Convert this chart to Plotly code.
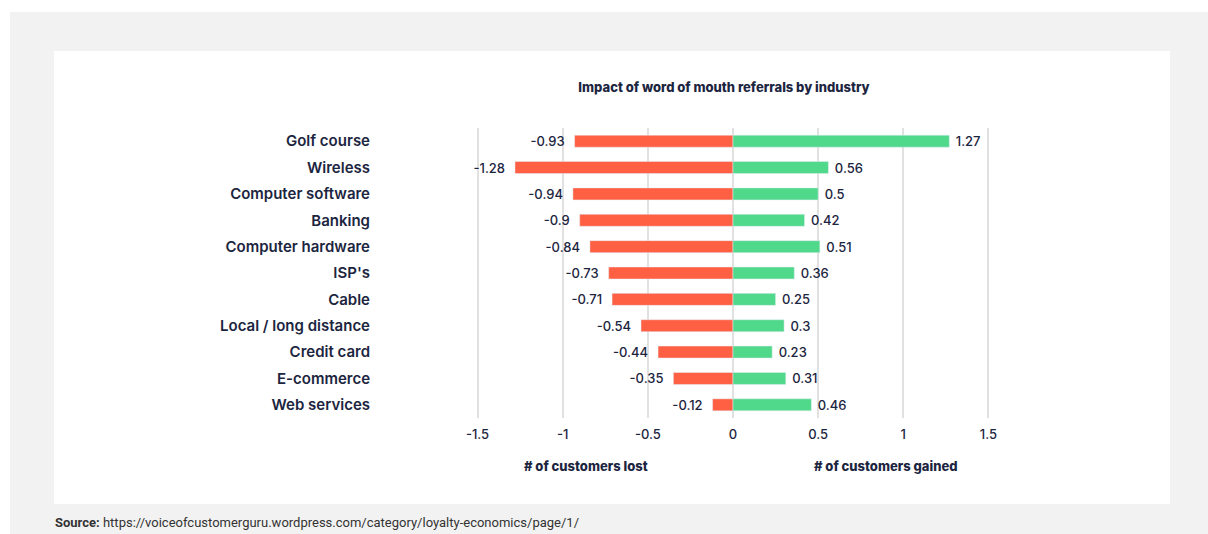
import plotly.graph_objects as go

categories = ["Golf course", "Wireless", "Computer software", "Banking", "Computer hardware",
              "ISP's", "Cable", "Local / long distance", "Credit card", "E-commerce", "Web services"]
lost = [-0.93, -1.28, -0.94, -0.9, -0.84, -0.73, -0.71, -0.54, -0.44, -0.35, -0.12]
gained = [1.27, 0.56, 0.5, 0.42, 0.51, 0.36, 0.25, 0.3, 0.23, 0.31, 0.46]
tick_vals = [-1.5, -1, -0.5, 0, 0.5, 1, 1.5]
tick_text = ["-1.5", "-1", "-0.5", "0", "0.5", "1", "1.5"]

W, H = 1208, 534
L, R, T, B = 469, 211, 128, 116
PW, PH = W - L - R, H - T - B
NAVY = "#1c2540"
FONT = "Inter"


def px_x(p):
    return (p - L) / PW


def px_y(p):
    return (H - B - p) / PH


fig = go.Figure()
fig.add_trace(go.Bar(
    y=categories, x=lost, orientation="h", marker_color="#ff5f42",
    text=[f"{v}  " for v in lost], textposition="outside", constraintext="none",
    textfont=dict(family=FONT, size=13, color=NAVY, weight=500),
    cliponaxis=False, showlegend=False, hoverinfo="x+y"))
fig.add_trace(go.Bar(
    y=categories, x=gained, orientation="h", marker_color="#50d88b",
    text=[f" {v}" for v in gained], textposition="outside", constraintext="none",
    textfont=dict(family=FONT, size=13, color=NAVY, weight=500),
    cliponaxis=False, showlegend=False, hoverinfo="x+y"))

fig.update_layout(
    width=W, height=H,
    margin=dict(l=L, r=R, t=T, b=B, pad=0),
    paper_bgcolor="white", plot_bgcolor="rgba(0,0,0,0)",
    barmode="relative", bargap=0.545,
    font=dict(family=FONT, color=NAVY),
    title=dict(text="Impact of word of mouth referrals by industry",
               x=724 / W, xanchor="center", xref="container",
               y=1 - 87 / H, yanchor="middle", yref="container",
               font=dict(family=FONT, size=13, color=NAVY, weight=800)),
    xaxis=dict(range=[-1.55, 1.55], tickvals=tick_vals, ticktext=tick_text,
               showgrid=True, gridcolor="#e1e1e1", gridwidth=2,
               zeroline=False, showline=False, ticks="", ticklabelstandoff=7,
               tickfont=dict(family=FONT, size=13, color=NAVY, weight=500)),
    yaxis=dict(autorange="reversed", showgrid=False, zeroline=False, showline=False,
               ticks="", ticklabelstandoff=98,
               tickfont=dict(family=FONT, size=15, color=NAVY, weight=600)),
    shapes=[
        dict(type="rect", xref="paper", yref="paper", layer="below",
             x0=px_x(10), x1=px_x(1215), y0=px_y(545), y1=px_y(12),
             fillcolor="#f2f2f2", line_width=0),
        dict(type="rect", xref="paper", yref="paper", layer="below",
             x0=px_x(54), x1=px_x(1170), y0=px_y(504), y1=px_y(51),
             fillcolor="white", line_width=0),
    ],
    annotations=[
        dict(text="# of customers lost", xref="paper", yref="paper",
             x=px_x(586), y=px_y(466), xanchor="center", yanchor="middle",
             showarrow=False, font=dict(family=FONT, size=13, color=NAVY, weight=800)),
        dict(text="# of customers gained", xref="paper", yref="paper",
             x=px_x(886), y=px_y(466), xanchor="center", yanchor="middle",
             showarrow=False, font=dict(family=FONT, size=13, color=NAVY, weight=800)),
        dict(text="<b>Source:</b> https://voiceofcustomerguru.wordpress.com/category/loyalty-economics/page/1/",
             xref="paper", yref="paper", x=px_x(53), y=px_y(522),
             xanchor="left", yanchor="middle", showarrow=False,
             font=dict(family="Roboto", size=13, color="#333333")),
    ],
)

fig.write_html("out.html", config={"displayModeBar": False},
               post_script="document.body.style.margin='0';document.body.style.overflow='hidden';")
